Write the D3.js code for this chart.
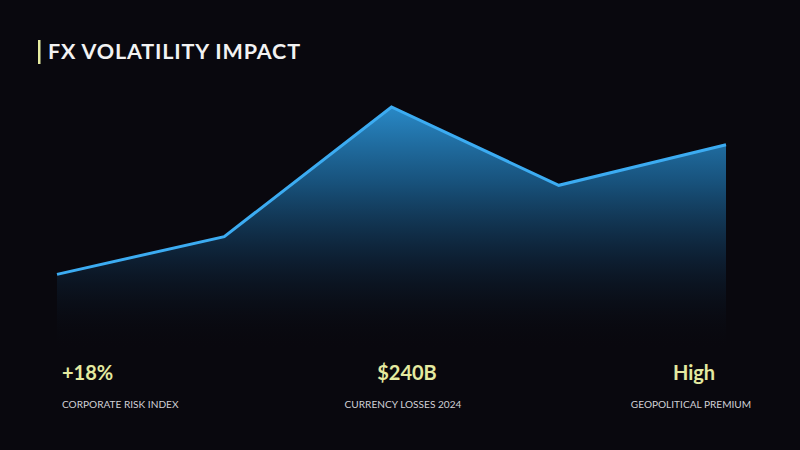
<!DOCTYPE html>
<html><head><meta charset="utf-8">
<script src="https://cdn.jsdelivr.net/npm/d3@7"></script>
<style>
html,body{margin:0;padding:0;background:#09080e;}
svg{display:block;}
</style></head>
<body>
<script>
const categories = ["P1","P2","P3","P4","P5"];
const values = [28, 42, 90, 61, 76];
const statValues = ["+18%", "$240B", "High"];
const statLabels = ["CORPORATE RISK INDEX", "CURRENCY LOSSES 2024", "GEOPOLITICAL PREMIUM"];
const titleText = "FX VOLATILITY IMPACT";

const W = 800, H = 450;
const svg = d3.select("body").append("svg").attr("width", W).attr("height", H);
svg.append("rect").attr("width", W).attr("height", H).attr("fill", "#09080e");

const x = d3.scalePoint().domain(categories).range([57, 726]);
const y = d3.scaleLinear().domain([0, 100]).range([350, 80]);

const defs = svg.append("defs");
const g = defs.append("linearGradient").attr("id","fillg")
  .attr("gradientUnits","userSpaceOnUse").attr("x1",0).attr("x2",0).attr("y1",y(95)).attr("y2",350);
g.append("stop").attr("offset","0%").attr("stop-color","#2e9be0").attr("stop-opacity",0.95);
g.append("stop").attr("offset","35%").attr("stop-color","#1a5e8e").attr("stop-opacity",0.85);
g.append("stop").attr("offset","65%").attr("stop-color","#0f2a44").attr("stop-opacity",0.65);
g.append("stop").attr("offset","100%").attr("stop-color","#09080e").attr("stop-opacity",0);

const data = categories.map((c,i)=>({c, v: values[i]}));
const area = d3.area().x(d=>x(d.c)).y0(350).y1(d=>y(d.v));
const line = d3.line().x(d=>x(d.c)).y(d=>y(d.v));

svg.append("path").datum(data).attr("d", area).attr("fill","url(#fillg)");
svg.append("path").datum(data).attr("d", line).attr("fill","none")
  .attr("stroke","#3cacf2").attr("stroke-width",3).attr("stroke-linejoin","miter");

// title
svg.append("rect").attr("x",38).attr("y",40).attr("width",2.5).attr("height",24).attr("fill","#e6eba0");
svg.append("text").attr("x",48).attr("y",59).text(titleText)
  .attr("fill","#f2f2f2").attr("font-family","Lato, 'Open Sans', sans-serif").attr("font-weight",700)
  .attr("font-size",21.5).attr("letter-spacing",0.85);

// stats
const statX = [62, 407, 694];
const anchors = ["start","middle","middle"];
const labelX = [62, 403, 691];
statValues.forEach((s,i)=>{
  svg.append("text").attr("x",statX[i]).attr("y",380).attr("text-anchor",anchors[i]).text(s)
    .attr("fill","#e4eaa0").attr("font-family","Lato, sans-serif").attr("font-weight",700).attr("font-size",20);
  svg.append("text").attr("x",labelX[i]).attr("y",408).attr("text-anchor",anchors[i]).text(statLabels[i])
    .attr("fill","#d0d0d6").attr("font-family","Lato, sans-serif").attr("font-size",10.1);
});
</script>
</body></html>
